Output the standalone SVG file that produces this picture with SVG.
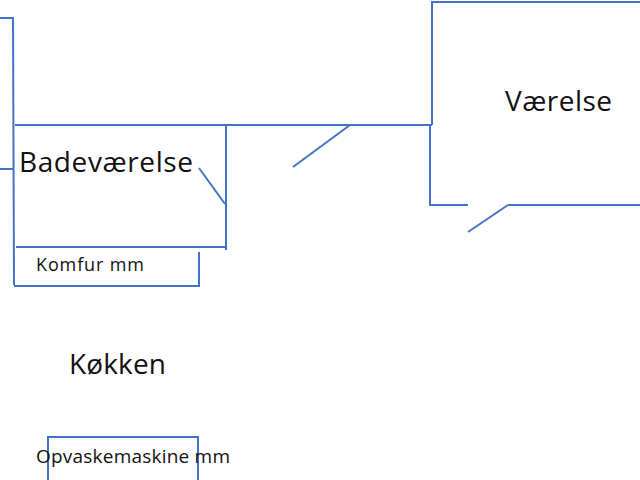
<svg xmlns="http://www.w3.org/2000/svg" width="640" height="480" viewBox="0 0 640 480">
<style>
.w{fill:none;stroke:#4472C4;stroke-width:2}
.t{font-family:"Open Sans","Liberation Sans",sans-serif;fill:#111}
</style>
<rect width="640" height="480" fill="#fff"/>
<g id="walls">
<polyline class="w" points="0,18 13,18 14,285"/>
<line class="w" x1="0" y1="169" x2="14" y2="169"/>
<line class="w" x1="15" y1="125" x2="432" y2="125"/>
<line class="w" x1="226" y1="125" x2="226" y2="250"/>
<line class="w" x1="16" y1="247" x2="226" y2="247"/>
<line class="w" x1="199" y1="168" x2="225" y2="204"/>
<line class="w" x1="293" y1="167" x2="350" y2="125"/>
<polyline class="w" points="432,125 432,5 432,2 640,2"/>
<polyline class="w" points="432,125 430,125 430,205 468,205"/>
<line class="w" x1="508" y1="205" x2="640" y2="205"/>
<line class="w" x1="468" y1="232" x2="508" y2="205"/>
</g>
<g id="komfur">
<polyline class="w" points="14,286 199,286 199,252"/>
<text class="t" x="36" y="271" font-size="18" textLength="108">Komfur mm</text>
</g>
<g id="opvask">
<polyline class="w" points="48,480 48,437 198,437 198,480"/>
<text class="t" x="36" y="463" font-size="19" textLength="194">Opvaskemaskine mm</text>
</g>
<text class="t" x="19" y="172" font-size="28" textLength="174">Badeværelse</text>
<text class="t" x="505" y="111" font-size="28" textLength="107">Værelse</text>
<text class="t" x="69" y="374" font-size="28" textLength="97">Køkken</text>
</svg>
